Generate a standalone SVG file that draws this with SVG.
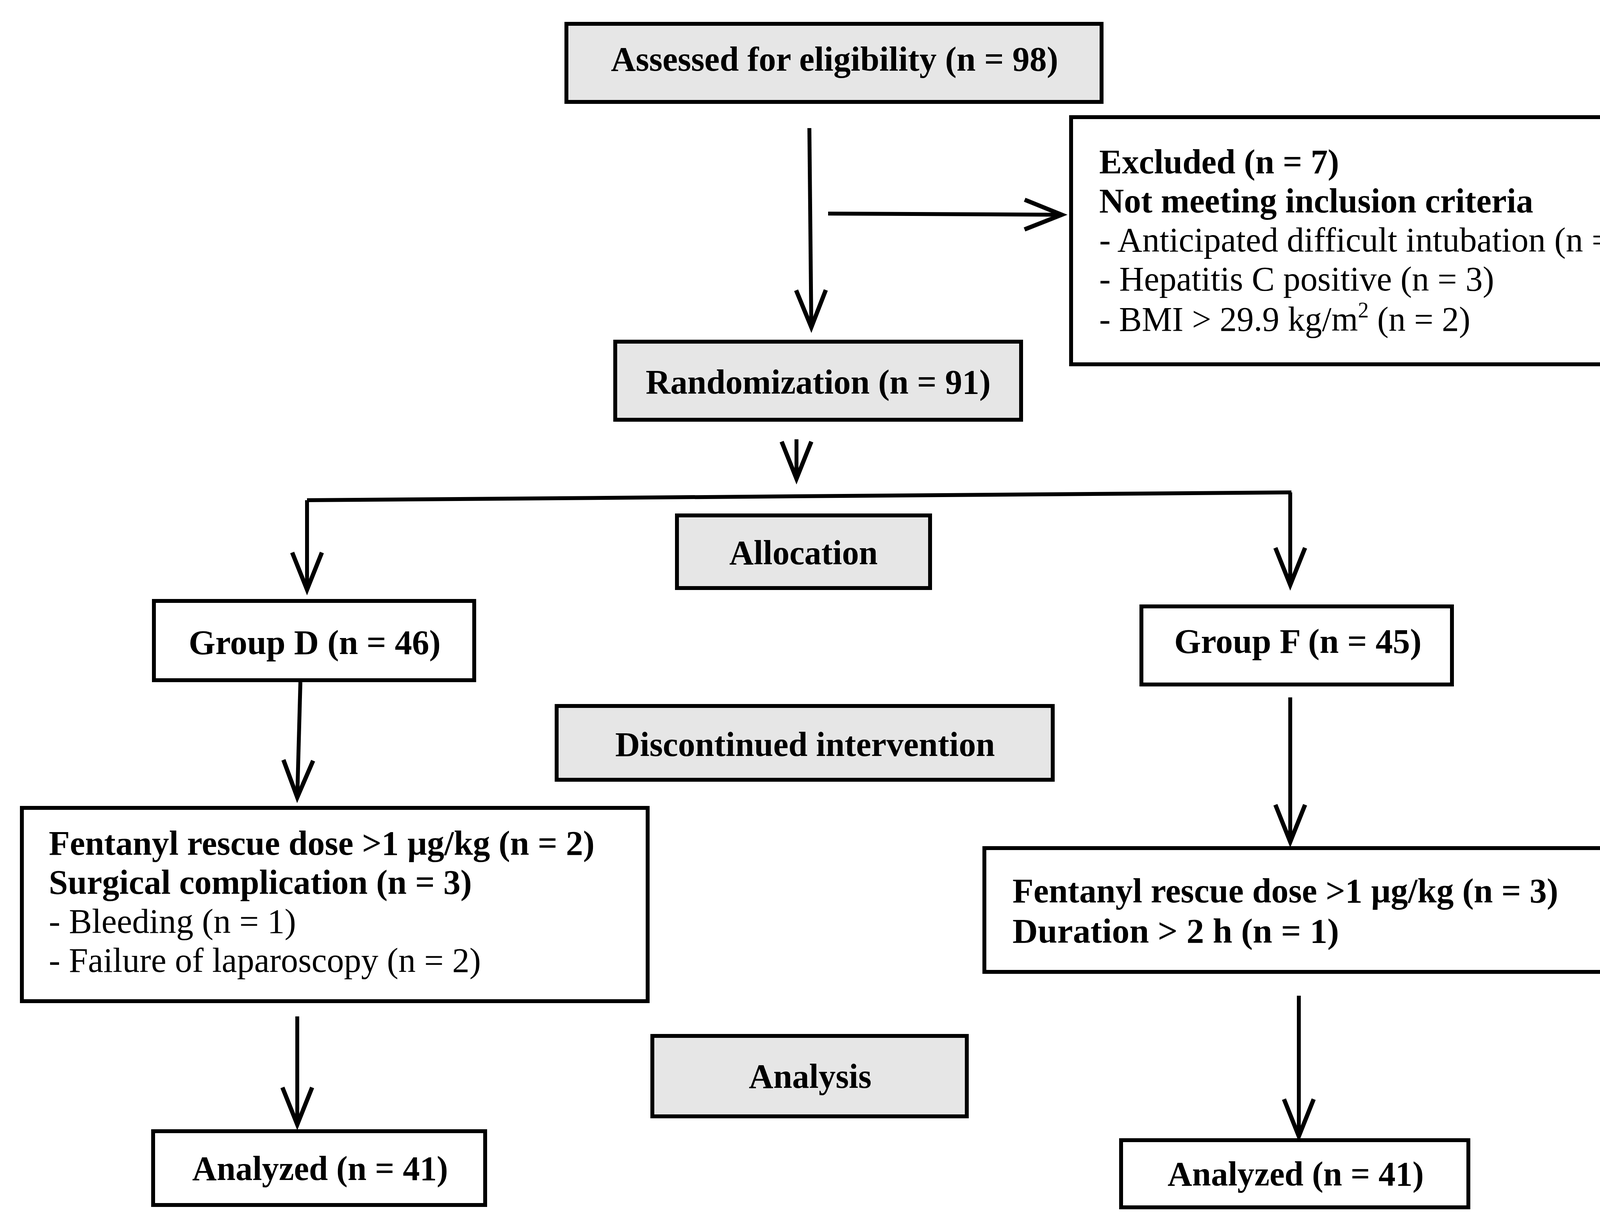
<svg xmlns="http://www.w3.org/2000/svg" width="4334" height="3127" viewBox="0 0 4334 3127">
<style>
.b{fill:#fff;stroke:#000;stroke-width:10}
.g{fill:#e6e6e6;stroke:#000;stroke-width:10}
text{font-family:"Liberation Serif","Times New Roman",serif;font-size:88px;fill:#000}
.t{font-weight:bold}
.c{fill:none;stroke:#000;stroke-width:10}
</style>
<defs>
<marker id="a" markerUnits="userSpaceOnUse" markerWidth="240" markerHeight="240" refX="0" refY="0" viewBox="-120 -120 240 240" orient="auto" overflow="visible">
<path d="M-95,-38 L0,0 L-95,38" fill="none" stroke="#000" stroke-width="11"/>
</marker>
</defs>
<g id="connectors" class="c">
<path d="M2072,328 L2077,838" marker-end="url(#a)"/>
<path d="M2120,547 L2718,550" marker-end="url(#a)"/>
<path d="M2039,1125 L2039,1226" marker-end="url(#a)"/>
<path d="M786,1281 L3306,1261"/>
<path d="M786,1281 L786,1510" marker-end="url(#a)"/>
<path d="M3303,1261 L3303,1498" marker-end="url(#a)"/>
<path d="M769,1747 L761,2042" marker-end="url(#a)"/>
<path d="M3303,1786 L3303,2156" marker-end="url(#a)"/>
<path d="M761,2603 L761,2880" marker-end="url(#a)"/>
<path d="M3325,2550 L3325,2910" marker-end="url(#a)"/>
</g>
<g id="assessed"><rect class="g" x="1450" y="61" width="1370" height="200"/><text class="t" x="1564" y="181" textLength="1145" lengthAdjust="spacingAndGlyphs">Assessed for eligibility (n = 98)</text></g>
<g id="excluded"><rect class="b" x="2742" y="300" width="1553" height="633"/>
<text class="t" x="2814" y="444" textLength="614" lengthAdjust="spacingAndGlyphs">Excluded (n = 7)</text>
<text class="t" x="2814" y="544" textLength="1111" lengthAdjust="spacingAndGlyphs">Not meeting inclusion criteria</text>
<text x="2814" y="644" textLength="1406" lengthAdjust="spacingAndGlyphs">- Anticipated difficult intubation (n = 2)</text>
<text x="2814" y="744" textLength="1011" lengthAdjust="spacingAndGlyphs">- Hepatitis C positive (n = 3)</text>
<text x="2814" y="847" textLength="950" lengthAdjust="spacingAndGlyphs">- BMI &gt; 29.9 kg/m<tspan font-size="56" dy="-34">2</tspan><tspan dy="34"> (n = 2)</tspan></text></g>
<g id="randomization"><rect class="g" x="1575" y="875" width="1039" height="200"/><text class="t" x="1653" y="1008" textLength="883" lengthAdjust="spacingAndGlyphs">Randomization (n = 91)</text></g>
<g id="allocation"><rect class="g" x="1733" y="1320" width="648" height="186"/><text class="t" x="1867" y="1445" textLength="380" lengthAdjust="spacingAndGlyphs">Allocation</text></g>
<g id="groupD"><rect class="b" x="394" y="1539" width="820" height="203"/><text class="t" x="483" y="1675" textLength="645" lengthAdjust="spacingAndGlyphs">Group D (n = 46)</text></g>
<g id="groupF"><rect class="b" x="2922" y="1553" width="795" height="200"/><text class="t" x="3006" y="1672" textLength="633" lengthAdjust="spacingAndGlyphs">Group F (n = 45)</text></g>
<g id="discontinued"><rect class="g" x="1425" y="1808" width="1270" height="189"/><text class="t" x="1575" y="1936" textLength="972" lengthAdjust="spacingAndGlyphs">Discontinued intervention</text></g>
<g id="discD"><rect class="b" x="56" y="2069" width="1602" height="495"/>
<text class="t" x="125" y="2189" textLength="1397" lengthAdjust="spacingAndGlyphs">Fentanyl rescue dose &gt;1 µg/kg (n = 2)</text>
<text class="t" x="125" y="2289" textLength="1083" lengthAdjust="spacingAndGlyphs">Surgical complication (n = 3)</text>
<text x="125" y="2389" textLength="633" lengthAdjust="spacingAndGlyphs">- Bleeding (n = 1)</text>
<text x="125" y="2489" textLength="1106" lengthAdjust="spacingAndGlyphs">- Failure of laparoscopy (n = 2)</text></g>
<g id="discF"><rect class="b" x="2520" y="2172" width="1591" height="317"/>
<text class="t" x="2592" y="2311" textLength="1397" lengthAdjust="spacingAndGlyphs">Fentanyl rescue dose &gt;1 µg/kg (n = 3)</text>
<text class="t" x="2592" y="2414" textLength="836" lengthAdjust="spacingAndGlyphs">Duration  &gt; 2 h (n = 1)</text></g>
<g id="analysis"><rect class="g" x="1670" y="2653" width="805" height="206"/><text class="t" x="1917" y="2786" textLength="314" lengthAdjust="spacingAndGlyphs">Analysis</text></g>
<g id="analyzedD"><rect class="b" x="392" y="2897" width="850" height="189"/><text class="t" x="492" y="3022" textLength="655" lengthAdjust="spacingAndGlyphs">Analyzed (n = 41)</text></g>
<g id="analyzedF"><rect class="b" x="2870" y="2920" width="889" height="172"/><text class="t" x="2989" y="3036" textLength="656" lengthAdjust="spacingAndGlyphs">Analyzed (n = 41)</text></g>
</svg>
